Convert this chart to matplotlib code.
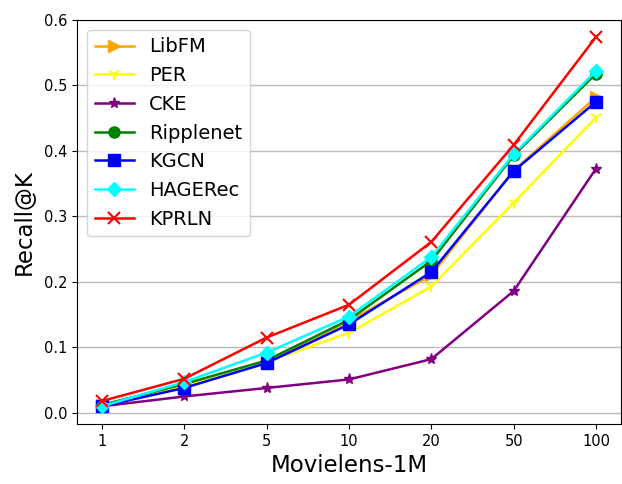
import matplotlib
matplotlib.use("Agg")
import matplotlib.pyplot as plt

k_labels = ["1", "2", "5", "10", "20", "50", "100"]
libfm = [0.012, 0.042, 0.078, 0.140, 0.210, 0.370, 0.482]
per = [0.010, 0.040, 0.078, 0.122, 0.193, 0.321, 0.451]
cke = [0.010, 0.025, 0.038, 0.051, 0.082, 0.186, 0.373]
ripplenet = [0.012, 0.044, 0.080, 0.142, 0.232, 0.393, 0.518]
kgcn = [0.010, 0.038, 0.076, 0.135, 0.215, 0.369, 0.475]
hagerec = [0.010, 0.047, 0.092, 0.147, 0.238, 0.395, 0.522]
kprln = [0.018, 0.052, 0.115, 0.165, 0.261, 0.409, 0.574]

series = [
    ("LibFM", libfm, "orange", ">"),
    ("PER", per, "yellow", "1"),
    ("CKE", cke, "purple", "*"),
    ("Ripplenet", ripplenet, "green", "o"),
    ("KGCN", kgcn, "blue", "s"),
    ("HAGERec", hagerec, "cyan", "D"),
    ("KPRLN", kprln, "red", "x"),
]

fig = plt.figure(figsize=(6.22, 4.84), dpi=100)
ax = fig.add_axes([0.124, 0.124, 0.874, 0.835])
x = list(range(len(k_labels)))
for name, vals, color, marker in series:
    ms = 8
    if marker == "1":
        ms = 9
    if marker == "D":
        ms = 7.5
    ax.plot(x, vals, color=color, marker=marker, markersize=ms, linewidth=1.8,
            label=name, markeredgewidth=1.5 if marker in ("x", "1") else 1)

ax.set_xticks(x)
ax.set_xticklabels(k_labels, fontsize=10.5)
ax.set_yticks([0.0, 0.1, 0.2, 0.3, 0.4, 0.5, 0.6])
ax.set_yticklabels(["0.0", "0.1", "0.2", "0.3", "0.4", "0.5", "0.6"], fontsize=10.5)
ax.set_xlim(-0.3, 6.3)
ax.set_ylim(-0.017, 0.6)
ax.yaxis.grid(True, color="#bbbbbb", linewidth=1)
ax.set_axisbelow(True)
ax.set_xlabel("Movielens-1M", fontsize=16.5)
ax.set_ylabel("Recall@K", fontsize=16.5, labelpad=6)
ax.legend(loc="upper left", fontsize=14, borderaxespad=0.5)
fig.savefig("out.png", dpi=100)
